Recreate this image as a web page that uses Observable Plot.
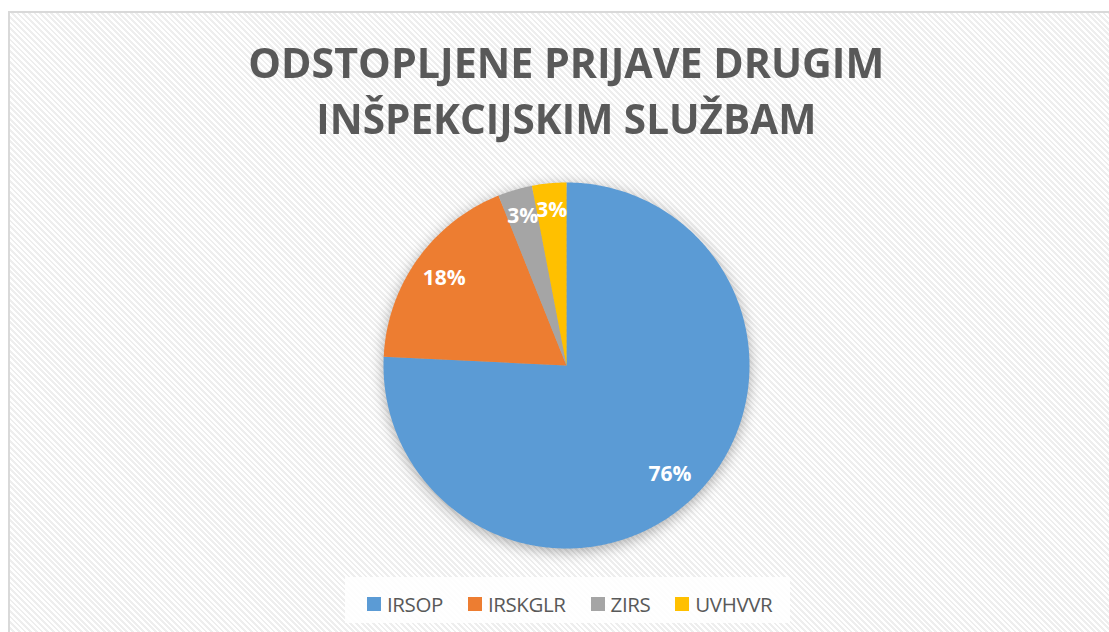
<!DOCTYPE html>
<html>
<head>
<meta charset="utf-8">
<script src="https://cdn.jsdelivr.net/npm/d3@7"></script>
<script src="https://cdn.jsdelivr.net/npm/@observablehq/plot@0.6"></script>
<style>
  html, body { margin: 0; padding: 0; background: #fff; }
  #frame {
    position: absolute; left: 8px; top: 11px; width: 1120px; height: 640px;
    border: 2px solid #d9d9d9; box-sizing: border-box;
    background: repeating-linear-gradient(45deg, #ffffff 0px, #ffffff 2px, #eeeeee 2px, #eeeeee 4px);
  }
  #wrap { position: absolute; left: 0; top: 0; width: 1109px; height: 632px; overflow: hidden; }
  .title {
    position: absolute; left: 0; width: 1132px; text-align: center;
    font-family: "Open Sans", sans-serif; font-weight: 700; font-size: 42px;
    line-height: 56px; color: #595959; white-space: nowrap;
  }
  .title span { display: inline-block; transform-origin: center; }
  #chart { position: absolute; left: 0; top: 0; }
  #legendbox {
    position: absolute; left: 345px; top: 577px; width: 445px; height: 46px;
    background: rgba(255,255,255,0.85);
  }
  #legend { position: absolute; left: 367px; top: 587px; }
  .lg-swatch { margin-right: 25px !important; letter-spacing: -0.4px; }
  .lg-swatch svg { margin-right: 6px !important; }
</style>
</head>
<body>
<div id="wrap">
  <div id="frame"></div>
  <div class="title" id="t1" style="top:34px"><span>ODSTOPLJENE PRIJAVE DRUGIM</span></div>
  <div class="title" id="t2" style="top:90px"><span>INŠPEKCIJSKIM SLUŽBAM</span></div>
  <div id="chart"></div>
  <div id="legendbox"></div>
  <div id="legend"></div>
</div>
<script>
const categories = ["IRSOP", "IRSKGLR", "ZIRS", "UVHVVR"];
const counts = [25, 6, 1, 1];
const labels = ["76%", "18%", "3%", "3%"];
const colors = ["#5b9bd5", "#ed7d31", "#a5a5a5", "#ffc000"];

// fit title widths
const targets = {t1: 636, t2: 500};
for (const id of ["t1", "t2"]) {
  const s = document.querySelector("#" + id + " span");
  const w = s.getBoundingClientRect().width;
  s.style.transform = `scaleX(${targets[id] / w})`;
}

const data = categories.map((c, i) => ({name: c, value: counts[i], label: labels[i]}));
const arcs = d3.pie().sort(null).value(d => d.value)(data);

// slice outlines (center -> arc -> center), unit radius
const pts = [];
for (const a of arcs) {
  const n = Math.max(4, Math.ceil((a.endAngle - a.startAngle) / 0.01));
  pts.push({name: a.data.name, x: 0, y: 0});
  for (let k = 0; k <= n; k++) {
    const t = a.startAngle + (a.endAngle - a.startAngle) * k / n;
    pts.push({name: a.data.name, x: Math.sin(t), y: Math.cos(t)});
  }
}
const labelPts = arcs.map(a => {
  const m = (a.startAngle + a.endAngle) / 2;
  const r = (a.endAngle - a.startAngle) < 0.5 ? 0.85 : 0.82;
  return {label: a.data.label, x: r * Math.sin(m), y: r * Math.cos(m)};
});

const cx = 566, cy = 365, R = 183;
const plot = Plot.plot({
  width: 1109,
  height: 632,
  margin: 0,
  style: {background: "transparent", overflow: "visible"},
  x: {domain: [-1, 1], range: [cx - R, cx + R], axis: null},
  y: {domain: [-1, 1], range: [cy + R, cy - R], axis: null},
  color: {domain: categories, range: colors},
  marks: [
    Plot.line(pts, {x: "x", y: "y", z: "name", fill: "name", stroke: "none", curve: "linear-closed"}),
    Plot.text(labelPts, {x: "x", y: "y", text: "label", fill: "white", fontSize: 21, fontWeight: "bold",
      fontFamily: "Open Sans, sans-serif"})
  ]
});
document.getElementById("chart").appendChild(plot);
const g = plot.querySelector('g[aria-label="line"]');
if (g) g.style.filter = "drop-shadow(0px 3px 7px rgba(0,0,0,0.32))";

const legend = plot.legend("color", {
  legend: "swatches",
  swatchSize: 14,
  className: "lg",
  style: {fontFamily: "Open Sans, sans-serif", fontSize: "20.5px", color: "#595959", background: "transparent"}
});
document.getElementById("legend").appendChild(legend);
</script>
</body>
</html>
